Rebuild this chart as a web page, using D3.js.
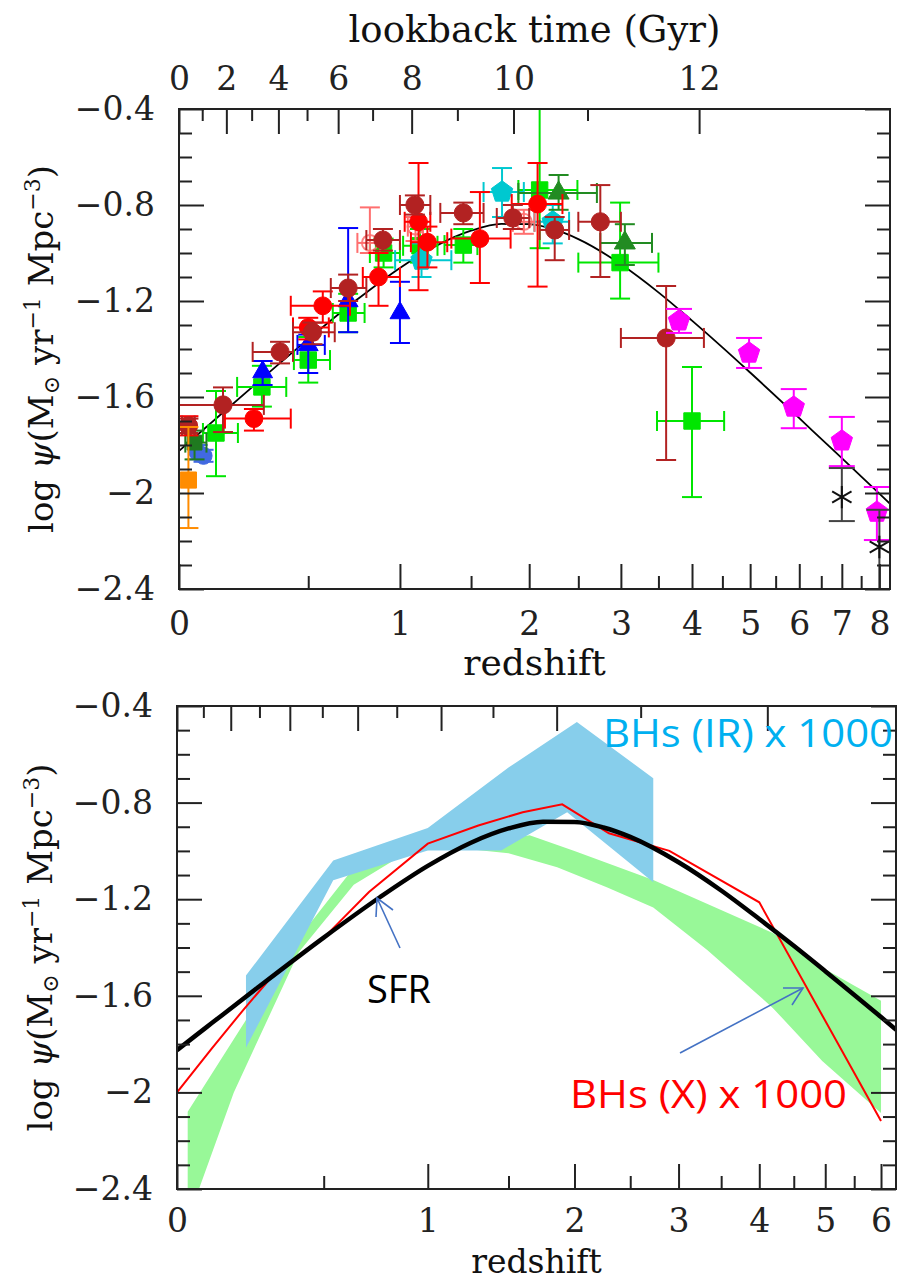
<!DOCTYPE html>
<html>
<head>
<meta charset="utf-8">
<script src="https://cdn.jsdelivr.net/npm/d3@7"></script>
<style>
  body { margin: 0; background: #fff; }
</style>
</head>
<body>
<div id="chart"></div>
<script>
// ---- data ----
// star formation history, log psi vs redshift
var sfrZ   = [0, 0.05, 0.1, 0.25, 0.5, 0.75, 1, 1.25, 1.5, 1.75, 2, 2.25, 2.5, 3, 3.5, 4, 4.5, 5, 6, 6.3, 7, 8, 8.3];
var sfrLog = [-1.825, -1.768, -1.714, -1.566, -1.359, -1.193, -1.062, -0.967, -0.907, -0.879, -0.880, -0.903,
              -0.942, -1.047, -1.164, -1.282, -1.393, -1.498, -1.688, -1.741, -1.855, -2.003, -2.044];

// points: [z, logpsi, zLow, zHigh, logLow, logHigh]  (null = no x error)
var greenSquares = [
  [0.123, -1.75, 0.078, 0.203, -1.575, -1.93],
  [0.297, -1.558, 0.2, 0.40, -1.47, -1.64],
  [0.50, -1.446, 0.434, 0.606, -1.35, -1.54],
  [0.70, -1.25, 0.62, 0.79, -1.17, -1.33],
  [0.90, -1.0, 0.82, 1.0, -0.94, -1.06],
  [1.13, -0.97, 1.02, 1.25, -0.9, -1.04],
  [1.44, -0.967, 1.3, 1.55, -0.9, -1.04],
  [2.10, -0.7375, 1.9, 2.49, -0.3, -0.98],
  [2.99, -1.04, 2.5, 3.5, -0.79, -1.19],
  [4.0, -1.70, 3.48, 4.53, -1.475, -2.017]
];
var blueTriangles = [
  [0.30, -1.496, null, null, -1.45, -1.55],
  [0.50, -1.383, 0.45, 0.58, -1.34, -1.5],
  [0.70, -1.2, null, null, -0.896, -1.33],
  [1.0, -1.25, null, null, -1.12, -1.375]
];
var royalPoints = [
  [0.06, -1.83, null, null, -1.80, -1.86],
  [0.08, -1.845, null, null, -1.82, -1.87]
];
var darkGreenSquares = [
  [0.05, -1.79, 0.02, 0.09, -1.74, -1.86]
];
var darkGreenTriangles = [
  [2.29, -0.75, 1.9, 2.71, -0.675, -0.82],
  [3.05, -0.958, 2.75, 3.41, -0.88, -1.05]
];
var cyanPentagons = [
  [1.14, -1.03, 0.97, 1.35, -0.96, -1.1],
  [1.755, -0.746, 1.6, 1.95, -0.646, -0.85],
  [2.23, -0.87, 2.05, 2.4, -0.8, -0.96]
];
var lightRedCircles = [
  [0.82, -0.958, 0.75, 0.88, -0.81, -1.0],
  [1.1, -0.89, 1.05, 1.15, -0.85, -0.95],
  [1.95, -0.87, 1.85, 2.05, -0.82, -0.92]
];
var redCircles = [
  [0.03, -1.72, 0.01, 0.05, -1.68, -1.76],
  [0.265, -1.69, 0.155, 0.42, -1.65, -1.74],
  [0.5, -1.31, 0.43, 0.6, -1.27, -1.36],
  [0.57, -1.22, 0.42, 0.71, -1.16, -1.29],
  [0.87, -1.10, 0.78, 1.0, -1.0, -1.22],
  [1.12, -0.87, 1.03, 1.2, -0.625, -1.155],
  [1.18, -0.955, 1.07, 1.32, -0.89, -1.06],
  [1.57, -0.94, 1.35, 1.83, -0.746, -1.125],
  [2.08, -0.796, 1.84, 2.33, -0.625, -1.14]
];
var brownCircles = [
  [0.03, -1.72, 0.01, 0.05, -1.69, -1.75],
  [0.148, -1.633, 0.0, 0.305, -1.56, -1.746],
  [0.373, -1.412, 0.26, 0.43, -1.37, -1.46],
  [0.52, -1.33, 0.43, 0.63, -1.29, -1.38],
  [0.70, -1.146, 0.61, 0.80, -1.09, -1.2],
  [0.896, -0.946, 0.80, 1.0, -0.9, -0.99],
  [1.096, -0.80, 1.0, 1.2, -0.76, -0.84],
  [1.44, -0.833, 1.27, 1.6, -0.79, -0.88],
  [1.85, -0.854, 1.71, 2.0, -0.8, -0.9],
  [2.25, -0.904, 2.1, 2.4, -0.85, -1.03],
  [2.75, -0.87, 2.5, 3.0, -0.717, -1.1],
  [3.61, -1.354, 3.0, 4.19, -1.1375, -1.8625]
];
var magentaPentagons = [
  [3.8, -1.283, null, null, -1.233, -1.333],
  [4.98, -1.417, null, null, -1.354, -1.479],
  [5.88, -1.642, null, null, -1.567, -1.73],
  [7.0, -1.783, null, null, -1.683, -1.888],
  [7.93, -2.08, null, null, -1.975, -2.196]
];
var orangeSquares = [
  [0.03, -1.946, null, null, -1.725, -2.146]
];
var blackStars = [
  [7.0, -2.017, null, null, -1.896, -2.117],
  [8.0, -2.225, null, null, -2.07, -2.5]
];

// lower panel: black hole accretion (x1000)
var bhxZ   = [0, 0.1, 0.2, 0.3, 0.5, 0.7, 1.0, 1.3, 1.6, 1.9, 2.3, 2.9, 4.0, 6.0];
var bhxLog = [-2.0, -1.82, -1.66, -1.52, -1.36, -1.17, -0.97, -0.895, -0.84, -0.807, -0.927, -1.0, -1.213, -2.118];
var irUpperZ   = [0.21, 0.54, 1.0, 1.5, 2.02, 2.73];
var irUpperLog = [-1.516, -1.04, -0.905, -0.655, -0.466, -0.699];
var irLowerZ   = [2.73, 1.94, 1.45, 1.0, 0.54, 0.21];
var irLowerLog = [-1.13, -0.84, -0.998, -0.998, -1.122, -1.815];
var gUpperZ   = [0.03, 0.21, 0.40, 0.63, 0.85, 1.2, 1.5, 1.65, 2.0, 2.73, 4.19, 5.0, 6.0];
var gUpperLog = [-2.08, -1.70, -1.36, -1.07, -0.99, -0.96, -0.95, -0.935, -1.0, -1.12, -1.34, -1.49, -1.62];
var gLowerZ   = [6.0, 4.95, 4.19, 3.33, 2.73, 2.28, 1.86, 1.5, 1.2, 0.9, 0.63, 0.4, 0.17, 0.05, 0.03];
var gLowerLog = [-2.085, -1.87, -1.65, -1.41, -1.234, -1.151, -1.068, -1.01, -0.99, -1.0, -1.14, -1.42, -2.0, -2.45, -2.45];

// tick labels
var yMajor = [-0.4, -0.8, -1.2, -1.6, -2, -2.4];
var lookMajor = [0, 2, 4, 6, 8, 10, 12];
var lookMinor = [1, 3, 5, 7, 9, 11, 13];

var width = 899, height = 1283;
var serif = "DejaVu Serif";

var svg = d3.select("#chart").append("svg")
    .attr("width", width)
    .attr("height", height);

// lookback time in Gyr (H0=70, Om=0.3, OL=0.7)
function lookback(z) {
  var n = 200, h = z / n, s = 0;
  for (var i = 0; i <= n; i++) {
    var zz = i * h;
    var f = 1 / ((1 + zz) * Math.sqrt(0.3 * Math.pow(1 + zz, 3) + 0.7));
    s += f * (i === 0 || i === n ? 1 : (i % 2 ? 4 : 2));
  }
  return 13.968 * s * h / 3;
}
function zFromLookback(t) {
  var lo = 0, hi = 30;
  for (var k = 0; k < 60; k++) {
    var mid = (lo + hi) / 2;
    if (lookback(mid) < t) lo = mid; else hi = mid;
  }
  return (lo + hi) / 2;
}

// custom marker shapes
var pentagon = {
  draw: function(ctx, size) {
    var r = Math.sqrt(size / 2.378);
    for (var i = 0; i < 5; i++) {
      var a = -Math.PI / 2 + i * 2 * Math.PI / 5;
      if (i === 0) ctx.moveTo(r * Math.cos(a), r * Math.sin(a));
      else ctx.lineTo(r * Math.cos(a), r * Math.sin(a));
    }
    ctx.closePath();
  }
};
var asterisk = {
  draw: function(ctx, size) {
    var r = Math.sqrt(size) / 2;
    [90, 30, 150].forEach(function(deg) {
      var a = deg * Math.PI / 180;
      ctx.moveTo(r * Math.cos(a), r * Math.sin(a));
      ctx.lineTo(-r * Math.cos(a), -r * Math.sin(a));
    });
  }
};

function styleAxis(g, fontSize) {
  g.attr("color", "#222").attr("font-family", serif).attr("font-size", fontSize);
  g.select(".domain").remove();
  g.selectAll("line").attr("stroke-width", 2);
}

function drawPanel(box, zMax, zMajor, zMinor, topLabels, idx) {
  var x = d3.scaleLog().domain([1, 1 + zMax]).range([box.x0, box.x1]);
  var y = d3.scaleLinear().domain([-2.4, -0.4]).range([box.y1, box.y0]);

  svg.append("clipPath").attr("id", "clip" + idx)
    .append("rect")
    .attr("x", box.x0).attr("y", box.y0)
    .attr("width", box.x1 - box.x0).attr("height", box.y1 - box.y0);

  var plot = svg.append("g").attr("clip-path", "url(#clip" + idx + ")");

  var yMinor = d3.range(-24, -3).map(function(d) { return d / 10; })
      .filter(function(d) { return Math.abs(Math.round(d * 10) % 4) !== 0; });
  var toX = function(z) { return 1 + z; };

  // bottom redshift axis
  svg.append("g").attr("transform", "translate(0," + box.y1 + ")")
    .call(d3.axisBottom(x).tickValues(zMajor.map(toX)).tickSize(-25).tickPadding(box.xPad)
      .tickFormat(function(d) { return String(Math.round(d - 1)); }))
    .call(styleAxis, 33);
  svg.append("g").attr("transform", "translate(0," + box.y1 + ")")
    .call(d3.axisBottom(x).tickValues(zMinor.map(toX)).tickSize(-13).tickFormat(""))
    .call(styleAxis, 33);

  // top lookback-time axis
  var lookZ = function(t) { return 1 + zFromLookback(t); };
  var inDom = function(v) { return v <= 1 + zMax; };
  svg.append("g").attr("transform", "translate(0," + box.y0 + ")")
    .call(d3.axisTop(x).tickValues(lookMajor.map(lookZ).filter(inDom)).tickSize(-25).tickPadding(19)
      .tickFormat(function(d, i) { return topLabels ? String(lookMajor[i]) : ""; }))
    .call(styleAxis, 33);
  svg.append("g").attr("transform", "translate(0," + box.y0 + ")")
    .call(d3.axisTop(x).tickValues(lookMinor.map(lookZ).filter(inDom)).tickSize(-12).tickFormat(""))
    .call(styleAxis, 33);

  // y axes
  svg.append("g").attr("transform", "translate(" + box.x0 + ",0)")
    .call(d3.axisLeft(y).tickValues(yMajor).tickSize(-25).tickPadding(24).tickFormat(d3.format("~g")))
    .call(styleAxis, 33);
  svg.append("g").attr("transform", "translate(" + box.x0 + ",0)")
    .call(d3.axisLeft(y).tickValues(yMinor).tickSize(-13).tickFormat(""))
    .call(styleAxis, 33);
  svg.append("g").attr("transform", "translate(" + box.x1 + ",0)")
    .call(d3.axisRight(y).tickValues(yMajor).tickSize(-25).tickFormat(""))
    .call(styleAxis, 33);
  svg.append("g").attr("transform", "translate(" + box.x1 + ",0)")
    .call(d3.axisRight(y).tickValues(yMinor).tickSize(-13).tickFormat(""))
    .call(styleAxis, 33);

  // frame
  svg.append("rect")
    .attr("x", box.x0).attr("y", box.y0)
    .attr("width", box.x1 - box.x0).attr("height", box.y1 - box.y0)
    .attr("fill", "none").attr("stroke", "#222").attr("stroke-width", 2);

  // y title
  var yt = svg.append("text")
    .attr("transform", "translate(" + box.ytx + "," + ((box.y0 + box.y1) / 2) + ") rotate(-90)")
    .attr("text-anchor", "middle")
    .attr("font-family", serif).attr("font-size", 34).attr("fill", "#111");
  yt.append("tspan").text("log ");
  yt.append("tspan").attr("font-style", "italic").text("\u03C8");
  yt.append("tspan").text("(M");
  yt.append("tspan").attr("font-size", 22).attr("dy", 6).text("\u2299");
  yt.append("tspan").attr("dy", -6).text(" yr");
  yt.append("tspan").attr("font-size", 22).attr("dy", -13).text("\u22121");
  yt.append("tspan").attr("dy", 13).text(" Mpc");
  yt.append("tspan").attr("font-size", 22).attr("dy", -13).text("\u22123");
  yt.append("tspan").attr("dy", 13).text(")");

  // x title
  svg.append("text")
    .attr("x", (box.x0 + box.x1) / 2).attr("y", box.xty)
    .attr("text-anchor", "middle")
    .attr("font-family", serif).attr("font-size", box.xts).attr("fill", "#111")
    .text("redshift");

  return { x: x, y: y, plot: plot };
}

// ---------------- top panel ----------------
var topBox = { x0: 179, x1: 890, y0: 109, y1: 589, xPad: 23, ytx: 53, xty: 675, xts: 36 };
var upper = drawPanel(topBox, 8.305, [0, 1, 2, 3, 4, 5, 6, 7, 8],
                      [0.5, 1.5, 2.5, 3.5, 4.5, 5.5, 6.5, 7.5], true, 1);

svg.append("text")
  .attr("x", (topBox.x0 + topBox.x1) / 2).attr("y", 42)
  .attr("text-anchor", "middle")
  .attr("font-family", serif).attr("font-size", 37).attr("fill", "#111")
  .text("lookback time (Gyr)");

function curveLine(sx, sy) {
  return d3.line()
    .x(function(d) { return sx(1 + d[0]); })
    .y(function(d) { return sy(d[1]); })
    .curve(d3.curveMonotoneX);
}

upper.plot.append("path")
  .datum(d3.zip(sfrZ, sfrLog))
  .attr("d", curveLine(upper.x, upper.y))
  .attr("fill", "none").attr("stroke", "#000").attr("stroke-width", 1.8);

function drawSeries(pts, color, shape, size, opts) {
  opts = opts || {};
  var cap = opts.cap || 10;
  var g = upper.plot.append("g");
  var sx = upper.x, sy = upper.y;
  var lc = opts.barColor || color;
  pts.forEach(function(p) {
    var px = sx(1 + p[0]), py = sy(p[1]);
    var bars = g.append("g").attr("stroke", lc).attr("stroke-width", 2);
    if (p[4] != null) {
      bars.append("line").attr("x1", px).attr("x2", px).attr("y1", sy(p[4])).attr("y2", sy(p[5]));
      bars.append("line").attr("x1", px - cap).attr("x2", px + cap).attr("y1", sy(p[4])).attr("y2", sy(p[4]));
      bars.append("line").attr("x1", px - cap).attr("x2", px + cap).attr("y1", sy(p[5])).attr("y2", sy(p[5]));
    }
    if (p[2] != null) {
      var xa = sx(1 + p[2]), xb = sx(1 + p[3]);
      bars.append("line").attr("x1", xa).attr("x2", xb).attr("y1", py).attr("y2", py);
      bars.append("line").attr("x1", xa).attr("x2", xa).attr("y1", py - 10).attr("y2", py + 10);
      bars.append("line").attr("x1", xb).attr("x2", xb).attr("y1", py - 10).attr("y2", py + 10);
    }
  });
  g.selectAll("path.m")
    .data(pts)
    .enter()
    .append("path")
    .attr("class", "m")
    .attr("transform", function(p) { return "translate(" + sx(1 + p[0]) + "," + sy(p[1]) + ")"; })
    .attr("d", d3.symbol().type(shape).size(size))
    .attr("fill", opts.open ? "none" : color)
    .attr("stroke", color)
    .attr("stroke-width", opts.open ? 2 : 1)
    .attr("opacity", opts.opacity || 1);
}

drawSeries(greenSquares, "#00e600", d3.symbolSquare, 270);
drawSeries(blueTriangles, "#0000ff", d3.symbolTriangle, 170);
drawSeries(royalPoints, "#4169e1", d3.symbolCircle, 230);
drawSeries(darkGreenSquares, "#1f7a1f", d3.symbolSquare, 220);
drawSeries(cyanPentagons, "#00c8d0", pentagon, 300);
drawSeries(darkGreenTriangles, "#228b22", d3.symbolTriangle, 190);
drawSeries(lightRedCircles, "#ff6f6f", d3.symbolCircle, 200, { open: true, opacity: 0.85 });
drawSeries(redCircles, "#ff0000", d3.symbolCircle, 250);
drawSeries(brownCircles, "#b22222", d3.symbolCircle, 260);
drawSeries(magentaPentagons, "#ff00ff", pentagon, 300, { cap: 13 });
drawSeries(orangeSquares, "#ff8c00", d3.symbolSquare, 260);
drawSeries(blackStars, "#111", asterisk, 500, { open: true, barColor: "#444", cap: 13 });

// ---------------- bottom panel ----------------
var botBox = { x0: 177, x1: 896, y0: 706, y1: 1189, xPad: 20, ytx: 52, xty: 1273, xts: 33 };
var lower = drawPanel(botBox, 6.296, [0, 1, 2, 3, 4, 5, 6], [0.5, 1.5, 2.5, 3.5, 4.5, 5.5], false, 2);

function band(zs, ls) {
  return d3.line()
    .x(function(d) { return lower.x(1 + d[0]); })
    .y(function(d) { return lower.y(d[1]); })(d3.zip(zs, ls)) + "Z";
}

lower.plot.append("path")
  .attr("d", band(gUpperZ.concat(gLowerZ), gUpperLog.concat(gLowerLog)))
  .attr("fill", "#98f898");
lower.plot.append("path")
  .attr("d", band(irUpperZ.concat(irLowerZ), irUpperLog.concat(irLowerLog)))
  .attr("fill", "#87ceeb");

lower.plot.append("path")
  .datum(d3.zip(bhxZ, bhxLog))
  .attr("d", d3.line().x(function(d) { return lower.x(1 + d[0]); }).y(function(d) { return lower.y(d[1]); }))
  .attr("fill", "none").attr("stroke", "#ff0000").attr("stroke-width", 2);

lower.plot.append("path")
  .datum(d3.zip(sfrZ, sfrLog).filter(function(d) { return d[0] <= 6.3; }))
  .attr("d", curveLine(lower.x, lower.y))
  .attr("fill", "none").attr("stroke", "#000").attr("stroke-width", 4.5);

// arrows
var arrows = [
  [[400, 948], [377, 898], [[376, 917], [393, 910]]],
  [[680, 1053], [803, 988], [[783, 988], [792, 1005]]]
];
arrows.forEach(function(a) {
  var g = svg.append("g").attr("stroke", "#4472c4").attr("stroke-width", 1.6).attr("fill", "none");
  g.append("line").attr("x1", a[0][0]).attr("y1", a[0][1]).attr("x2", a[1][0]).attr("y2", a[1][1]);
  g.append("path").attr("d", "M" + a[2][0] + "L" + a[1] + "L" + a[2][1]);
});

var sans = "Open Sans";
svg.append("text").attr("x", 603).attr("y", 747)
  .attr("font-family", sans).attr("font-size", 38).attr("fill", "#00b0f0")
  .attr("textLength", 290).attr("lengthAdjust", "spacingAndGlyphs")
  .text("BHs (IR) x 1000");
svg.append("text").attr("x", 367).attr("y", 1003)
  .attr("font-family", sans).attr("font-size", 38).attr("fill", "#000")
  .text("SFR");
svg.append("text").attr("x", 570).attr("y", 1108)
  .attr("font-family", sans).attr("font-size", 38).attr("fill", "#ff0000")
  .attr("textLength", 277).attr("lengthAdjust", "spacingAndGlyphs")
  .text("BHs (X) x 1000");
</script>
</body>
</html>
